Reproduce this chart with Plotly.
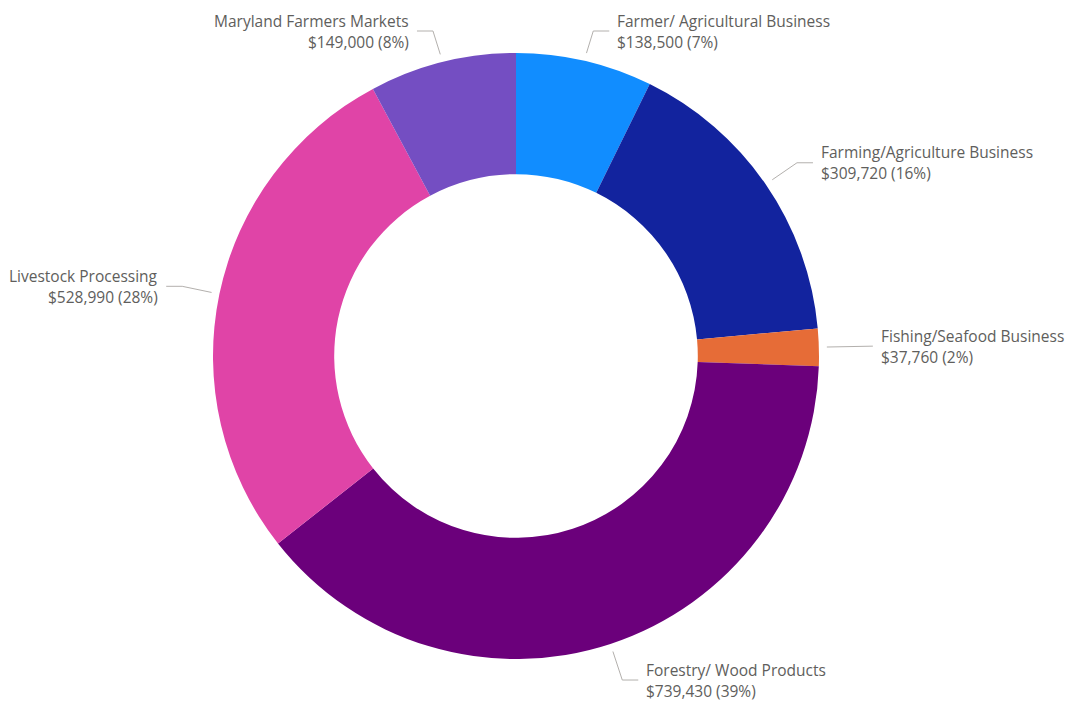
"""
Donut chart: grant funding by business category
"""
import numpy as np
import plotly.graph_objects as go

W, H = 1076, 707
FONT_FAMILY = "Segoe UI, Open Sans, Arial, sans-serif"
TEXT_COLOR = "#605E5C"
LINE_COLOR = "#B3B0AD"

categories = [
    "Farmer/ Agricultural Business",
    "Farming/Agriculture Business",
    "Fishing/Seafood Business",
    "Forestry/ Wood Products",
    "Livestock Processing",
    "Maryland Farmers Markets",
]
amounts = [138500, 309720, 37760, 739430, 528990, 149000]
colors = ["#118DFF", "#12239E", "#E66C37", "#6B007B", "#E044A7", "#744EC2"]

# geometry of the donut in pixels (page has an 8px body margin)
CX, CY, R = 508, 348, 303
HOLE = 0.6
MIN_LABEL_Y = 23  # keep top labels inside the figure


def _label_lines(values):
    """Leader-line points and label anchors from each slice's mid-angle."""
    vals = np.array(values, dtype=float)
    frac = vals / vals.sum()
    mids = np.cumsum(frac) - frac / 2
    out = []
    for m in mids:
        a = 2 * np.pi * m  # clockwise from top
        sx, sy = np.sin(a), -np.cos(a)
        p0 = (CX + (R + 8) * sx, CY + (R + 8) * sy)
        p1 = (CX + (R + 38) * sx, max(CY + (R + 38) * sy, MIN_LABEL_Y))
        side = 1 if sx >= 0 else -1
        p2 = (p1[0] + 16 * side, p1[1])
        out.append((p0, p1, p2, side))
    return out


fig = go.Figure()
fig.add_trace(go.Pie(
    labels=categories, values=amounts, hole=HOLE,
    sort=False, direction="clockwise", rotation=0,
    marker=dict(colors=colors, line=dict(width=0)),
    textinfo="none", showlegend=False,
    domain=dict(x=[(CX - R) / W, (CX + R) / W],
                y=[(H - CY - R) / H, (H - CY + R) / H]),
    hovertemplate="%{label}<br>$%{value:,}<br>%{percent}<extra></extra>",
))

total = sum(amounts)
for name, val, (p0, p1, p2, side) in zip(categories, amounts, _label_lines(amounts)):
    fig.add_trace(go.Scatter(
        x=[p0[0], p1[0], p2[0]], y=[p0[1], p1[1], p2[1]],
        mode="lines", line=dict(color=LINE_COLOR, width=1),
        hoverinfo="skip", showlegend=False,
    ))
    tx = p2[0] + 6 * side
    anchor = "left" if side > 0 else "right"
    pct = round(val / total * 100)
    for dy, txt in [(-10.5, name), (10.5, f"${val:,} ({pct}%)")]:
        fig.add_annotation(
            x=tx, y=p2[1] + dy, text=txt, showarrow=False,
            xanchor=anchor, yanchor="middle",
            font=dict(family=FONT_FAMILY, size=15.5, color=TEXT_COLOR),
        )

fig.update_layout(
    width=W, height=H,
    margin=dict(l=0, r=0, t=0, b=0),
    paper_bgcolor="white", plot_bgcolor="rgba(0,0,0,0)",
    xaxis=dict(range=[0, W], visible=False, fixedrange=True),
    yaxis=dict(range=[H, 0], visible=False, fixedrange=True),
    font=dict(family=FONT_FAMILY),
)

fig.write_html("out.html")
